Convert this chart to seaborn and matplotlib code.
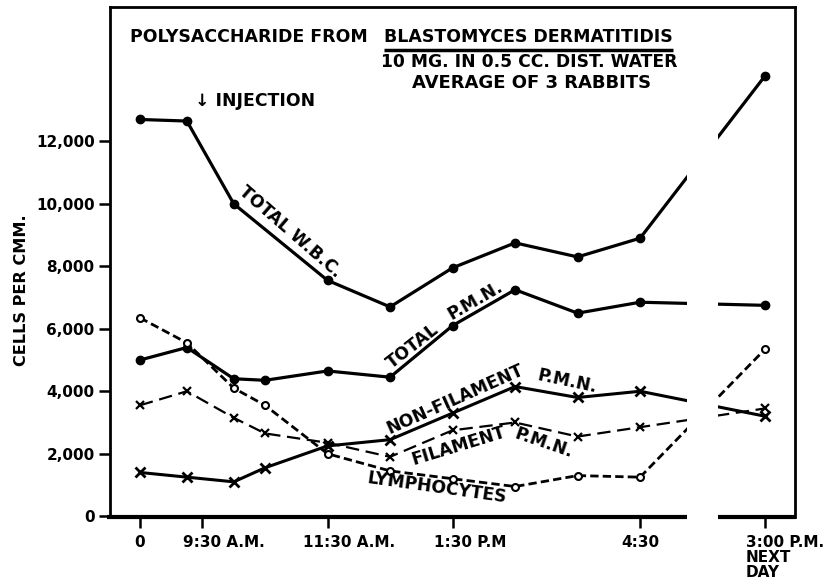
import numpy as np
import pandas as pd
import matplotlib
matplotlib.use("Agg")
import matplotlib.pyplot as plt
import seaborn as sns

# hours after the first count (8:30 A.M.); the next-day count sits at 10 past the axis break
hours = [0, 0.75, 1.5, 2, 3, 4, 5, 6, 7, 8, 10]
total_wbc = [12700, 12650, 10000, np.nan, 7550, 6700, 7950, 8750, 8300, 8900, 14100]
total_pmn = [5000, 5400, 4400, 4350, 4650, 4450, 6100, 7250, 6500, 6850, 6750]
non_filament_pmn = [1400, 1250, 1100, 1550, 2250, 2450, 3300, 4150, 3800, 4000, 3200]
filament_pmn = [3550, 4000, 3150, 2650, 2350, 1900, 2750, 3000, 2550, 2850, 3450]
lymphocytes = [6350, 5550, 4100, 3550, 2000, 1450, 1200, 950, 1300, 1250, 5350]

x_ticks = [0, 1, 3, 5, 8, 10]
x_labels = ["0", "9:30 A.M.", "11:30 A.M.", "1:30 P.M", "4:30", "3:00 P.M.\nNEXT\nDAY"]
y_ticks = [0, 2000, 4000, 6000, 8000, 10000, 12000]
y_labels = ["0", "2,000", "4,000", "6,000", "8,000", "10,000", "12,000"]
gap = (8.75, 9.25)
xlim = (-0.48, 10.48)
ylim = (-30, 16300)

df = pd.DataFrame({
    "hours": hours,
    "total_wbc": total_wbc,
    "total_pmn": total_pmn,
    "non_filament_pmn": non_filament_pmn,
    "filament_pmn": filament_pmn,
    "lymphocytes": lymphocytes,
})

sns.set_style("white")
plt.rcParams["font.family"] = ["DejaVu Sans"]
plt.rcParams["font.weight"] = "bold"
for k in ["text.color", "axes.labelcolor", "xtick.color", "ytick.color", "axes.edgecolor"]:
    plt.rcParams[k] = "black"

fig, ax = plt.subplots(figsize=(8.3, 5.85), dpi=100)
fig.subplots_adjust(left=0.1325, right=0.958, bottom=0.116, top=0.988)


def draw(col, ls, marker, lw, ms, mfc, mew):
    d = df.dropna(subset=[col])
    sns.lineplot(data=d, x="hours", y=col, ax=ax, color="black", linestyle=ls,
                 lw=lw, marker=marker, markersize=ms, markerfacecolor=mfc,
                 markeredgecolor="black", markeredgewidth=mew)


draw("total_wbc", "-", "o", 2.3, 6, "black", 1)
draw("total_pmn", "-", "o", 2.3, 6, "black", 1)
draw("non_filament_pmn", "-", "x", 2.2, 7, "black", 2)
draw("filament_pmn", (0, (6, 3)), "x", 1.6, 6, "black", 1.6)
draw("lymphocytes", (0, (3, 1.5)), "o", 2.0, 5, "white", 1.5)

# break in the time axis
ax.axvspan(gap[0], gap[1], color="white", lw=0, zorder=2.3)
ax.spines["bottom"].set_visible(False)
trans = ax.get_xaxis_transform()
for a, b in [(xlim[0] - 0.05, gap[0]), (gap[1], xlim[1] + 0.02)]:
    ax.plot([a, b], [0, 0], transform=trans, color="black", lw=3,
            clip_on=False, solid_capstyle="butt")
for side in ["left", "right", "top"]:
    ax.spines[side].set_linewidth(2)
    ax.spines[side].set_color("black")

ax.set_xlim(*xlim)
ax.set_ylim(*ylim)
ax.set_xlabel("")
ax.set_ylabel("")
ax.set_yticks(y_ticks)
ax.set_yticklabels(y_labels)
ax.set_xticks(x_ticks)
ax.set_xticklabels([])
ax.tick_params(axis="both", direction="out", length=8, width=1.8, color="black",
               bottom=True, left=True, labelsize=11, pad=3, labelcolor="black")

# time labels: the clock part is centred on its tick
fig.canvas.draw()
r = fig.canvas.get_renderer()
for pos, lab in zip(x_ticks, x_labels):
    head = lab.split()[0]
    tmp = ax.text(0, 0, head, fontsize=11, fontweight="bold")
    w = tmp.get_window_extent(r).width * 72 / fig.dpi
    tmp.remove()
    ax.annotate(lab, xy=(pos, 0), xycoords=trans, xytext=(-w / 2, -13),
                textcoords="offset points", ha="left", va="top", fontsize=11,
                fontweight="bold", linespacing=1.0, annotation_clip=False)

fig.text(21 / 830, 1 - 290 / 585, "CELLS PER CMM.", rotation=90, ha="center",
         va="center", fontsize=11.6, fontweight="bold")

# heading inside the frame
head1 = ax.text(-0.16, 15330, "POLYSACCHARIDE FROM", ha="left", va="center", fontsize=12.5)
fig.canvas.draw()
r = fig.canvas.get_renderer()
inv = ax.transAxes.inverted()
hb = head1.get_window_extent(r)
t = ax.annotate("BLASTOMYCES DERMATITIDIS", xy=(inv.transform([[hb.x1, hb.y0]])[0][0], 0),
                xycoords=ax.transAxes, xytext=(12, 0), textcoords="offset points",
                ha="left", va="center", fontsize=12.5)
t.xy = (inv.transform([[hb.x1, hb.y0]])[0][0], inv.transform([[0, (hb.y0 + hb.y1) / 2]])[0][1])
ax.text(8.59, 14530, "10 MG. IN 0.5 CC. DIST. WATER", ha="right", va="center", fontsize=12.3)
ax.text(6.27, 13860, "AVERAGE OF 3 RABBITS", ha="center", va="center", fontsize=13)
ax.text(0.88, 13280, "\u2193 INJECTION", ha="left", va="center", fontsize=12.4)

fig.canvas.draw()
bb = t.get_window_extent(fig.canvas.get_renderer())
(u0, v0), (u1, v1) = inv.transform([[bb.x0, bb.y0], [bb.x1, bb.y1]])
ax.plot([u0, u1], [v0 - 0.008, v0 - 0.008], transform=ax.transAxes, color="black",
        lw=2.5, solid_capstyle="butt")

# curve labels
labels = [
    ("TOTAL W.B.C.", 2.4, 9090, -41),
    ("TOTAL", 4.37, 5440, 38),
    ("P.M.N.", 5.36, 6910, 30),
    ("NON-FILAMENT", 5.04, 3740, 24),
    ("P.M.N.", 6.83, 4320, -12),
    ("FILAMENT", 5.09, 2240, 17),
    ("P.M.N.", 6.45, 2340, -19),
    ("LYMPHOCYTES", 4.75, 900, -8),
]
for txt, x, y, rot in labels:
    ax.text(x, y, txt, rotation=rot, rotation_mode="anchor", ha="center",
            va="center", fontsize=12.3, fontweight="bold")

fig.savefig("out.png", dpi=100)
